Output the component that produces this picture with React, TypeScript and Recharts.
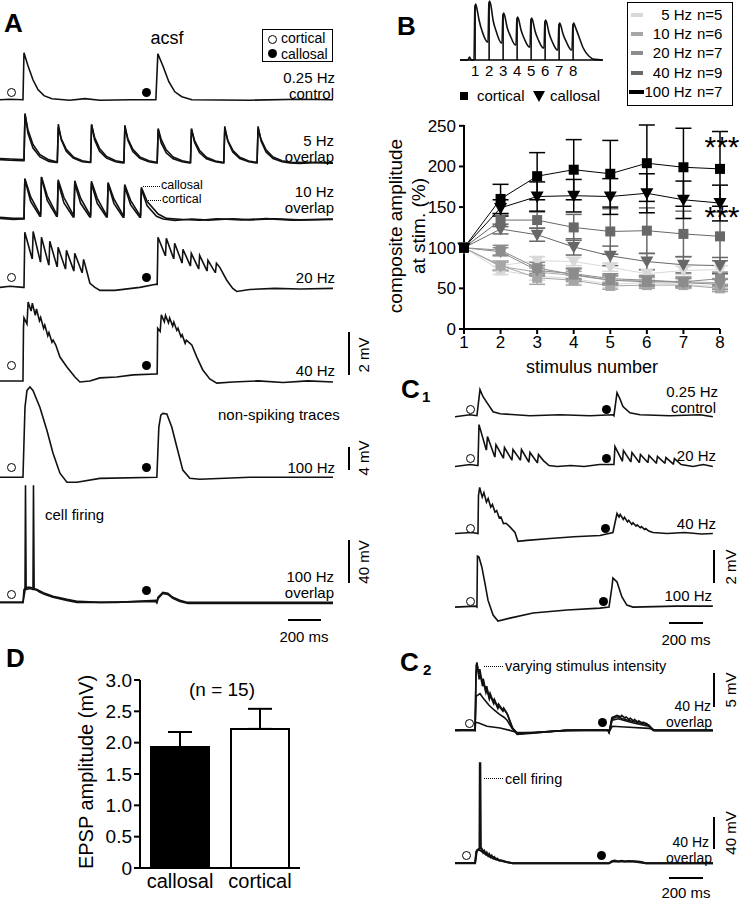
import type { CSSProperties, ReactNode } from "react";
import {
  Bar,
  BarChart,
  Cell,
  ErrorBar,
  Line,
  LineChart,
  ReferenceLine,
  XAxis,
  YAxis,
} from "recharts";

type Pt = [number, number]; // [time ms, mV]

const INK = "#111";
const FONT = '"Liberation Sans", Arial, Helvetica, sans-serif';

// ---------- panel A traces ----------
const A_CTRL: Pt[] = [
  [0, 0], [60, 0.02], [138, 0], [144, 2.19], [168, 1.58], [198, 0.93], [228, 0.47], [264, 0.19],
  [312, 0.05], [420, -0.02], [510, 0.05], [600, -0.02], [780, 0], [936, 0], [948, 2.14],
  [978, 1.58], [1014, 0.84], [1050, 0.37], [1092, 0.14], [1152, 0], [1500, -0.02], [1800, 0.02], [2000, 0],
];

const A_5HZ_CORT: Pt[] = [
  [0, 0.15], [60, 0.12], [138, 0.1],
  [144, 0.1], [150, 2.3], [168, 1.38], [198, 0.69], [240, 0.28], [294, 0.07], [338, 0.02],
  [344, 0.02], [350, 1.8], [368, 1.08], [398, 0.54], [440, 0.22], [494, 0.05], [538, 0.02],
  [544, 0.02], [550, 1.8], [568, 1.08], [598, 0.54], [640, 0.22], [694, 0.05], [738, 0],
  [744, 0], [750, 1.75], [768, 1.05], [798, 0.53], [840, 0.21], [894, 0.05], [938, 0],
  [944, 0], [950, 1.55], [968, 0.93], [998, 0.47], [1040, 0.19], [1094, 0.05], [1138, 0],
  [1144, 0], [1150, 1.6], [1168, 0.96], [1198, 0.48], [1240, 0.19], [1294, 0.05], [1338, 0],
  [1344, 0], [1350, 1.7], [1368, 1.02], [1398, 0.51], [1440, 0.2], [1494, 0.05], [1538, 0],
  [1544, 0], [1550, 1.7], [1568, 1.02], [1598, 0.51], [1640, 0.2], [1694, 0.05], [1740, 0],
  [1800, -0.03], [1900, 0.02], [2000, -0.02],
];

const A_5HZ_CALL: Pt[] = [
  [0, 0.2], [60, 0.18], [138, 0.15],
  [144, 0.15], [150, 2.25], [168, 1.53], [198, 0.86], [240, 0.38], [294, 0.14], [338, 0.05],
  [344, 0.05], [350, 1.65], [368, 1.12], [398, 0.63], [440, 0.28], [494, 0.1], [538, 0.04],
  [544, 0.04], [550, 1.75], [568, 1.19], [598, 0.67], [640, 0.3], [694, 0.1], [738, 0.04],
  [744, 0.04], [750, 1.65], [768, 1.12], [798, 0.63], [840, 0.28], [894, 0.1], [938, 0.03],
  [944, 0.03], [950, 1.6], [968, 1.09], [998, 0.61], [1040, 0.27], [1094, 0.1], [1138, 0.03],
  [1144, 0.03], [1150, 1.55], [1168, 1.05], [1198, 0.59], [1240, 0.26], [1294, 0.09], [1338, 0.03],
  [1344, 0.03], [1350, 1.55], [1368, 1.05], [1398, 0.59], [1440, 0.26], [1494, 0.09], [1538, 0.03],
  [1544, 0.03], [1550, 1.6], [1568, 1.09], [1598, 0.61], [1640, 0.27], [1694, 0.1], [1760, 0.02],
  [1850, 0.03], [2000, 0],
];

const A_10HZ_CORT: Pt[] = [
  [0, 0.05], [80, 0], [138, 0.02],
  [144, 0.02], [149, 1.86], [184, 0.84], [239, 0.15],
  [244, 0.15], [249, 1.95], [284, 0.88], [339, 0.15],
  [344, 0.15], [349, 1.72], [384, 0.77], [439, 0.12],
  [444, 0.12], [449, 1.67], [484, 0.75], [539, 0.12],
  [544, 0.12], [549, 1.67], [584, 0.75], [639, 0.12],
  [644, 0.12], [649, 1.67], [684, 0.75], [739, 0.1],
  [744, 0.1], [749, 1.53], [784, 0.69], [839, 0.1],
  [844, 0.1], [849, 1.4], [884, 0.63], [940, 0.15], [980, 0.02],
  [1050, -0.05], [1150, 0.02], [1250, -0.03], [1400, 0.03], [1500, -0.02], [1650, 0.03], [1800, -0.02], [2000, 0.02],
];

const A_10HZ_CALL: Pt[] = [
  [0, 0.1], [80, 0.05], [138, 0.05],
  [144, 0.05], [149, 1.9], [184, 1.05], [239, 0.25],
  [244, 0.25], [249, 1.98], [284, 1.09], [339, 0.25],
  [344, 0.25], [349, 1.85], [384, 1.02], [439, 0.22],
  [444, 0.22], [449, 1.8], [484, 0.99], [539, 0.22],
  [544, 0.22], [549, 1.78], [584, 0.98], [639, 0.2],
  [644, 0.2], [649, 1.72], [684, 0.95], [739, 0.2],
  [744, 0.2], [749, 1.62], [784, 0.89], [839, 0.2],
  [844, 0.2], [849, 1.5], [884, 0.83], [950, 0.25], [1000, 0.05],
  [1100, 0], [1200, -0.04], [1300, 0.03], [1450, -0.02], [1600, 0.04], [1750, -0.03], [2000, 0],
];

const A_20HZ: Pt[] = [
  [0, 0], [60, 0.05], [138, 0],
  [144, 0], [149, 2.56], [192, 1.35],
  [194, 1.35], [199, 2.6], [242, 1.21],
  [244, 1.21], [249, 2.33], [292, 1.07],
  [294, 1.07], [299, 2.14], [342, 0.98],
  [344, 0.98], [349, 1.86], [392, 0.88],
  [394, 0.88], [399, 1.72], [442, 0.79],
  [444, 0.79], [449, 1.58], [492, 0.7],
  [494, 0.7], [502, 1.3], [516, 0.9], [540, 0.19], [570, 0], [600, -0.14], [690, -0.14], [840, 0], [936, 0.14],
  [944, 0.14], [949, 2.33], [992, 1.49],
  [994, 1.49], [999, 2.28], [1042, 1.35],
  [1044, 1.35], [1049, 2.05], [1092, 1.16],
  [1094, 1.16], [1099, 1.77], [1142, 1.02],
  [1144, 1.02], [1149, 1.58], [1192, 0.88],
  [1194, 0.88], [1199, 1.49], [1242, 0.79],
  [1244, 0.79], [1249, 1.26], [1292, 0.7],
  [1294, 0.7], [1300, 1.12], [1320, 0.93], [1362, 0.33], [1398, -0.05], [1422, -0.19],
  [1500, -0.1], [1650, -0.05], [1800, -0.08], [2000, -0.05],
];

const A_40HZ: Pt[] = [
  [0, 0.05], [138, 0.05], [141, 2.5], [144, 2.98], [162, 2.7], [169, 3.72], [187, 3.3], [194, 3.67],
  [212, 3.1], [219, 3.4], [237, 2.85], [244, 3.0], [262, 2.5], [269, 2.65], [287, 2.15], [294, 2.3],
  [312, 1.85], [319, 1.95], [335, 1.72], [360, 1.16], [402, 0.7], [450, 0.23], [480, 0],
  [540, 0.05], [600, 0.19], [700, 0.23], [800, 0.33], [936, 0.37],
  [944, 0.37], [947, 2.5], [962, 2.35], [969, 3.12], [987, 2.8], [994, 3.1], [1012, 2.75], [1019, 2.98],
  [1037, 2.6], [1044, 2.79], [1062, 2.4], [1069, 2.5], [1087, 2.1], [1094, 2.2], [1112, 1.8], [1119, 1.95],
  [1152, 1.72], [1182, 1.16], [1218, 0.56], [1260, 0.14], [1302, -0.05], [1400, 0], [1550, 0.05],
  [1700, -0.02], [1850, 0.05], [2000, 0],
];

const A_100HZ: Pt[] = [
  [0, 0], [138, 0], [150, 12.7], [162, 15.8], [180, 16.4], [198, 15.8], [240, 12.7], [282, 8.5],
  [318, 4.4], [360, 0.73], [402, -0.9], [462, -0.9], [600, -0.2], [942, 0],
  [954, 9.1], [966, 11.3], [978, 11.6], [1002, 11.5], [1032, 9.1], [1062, 5.5], [1098, 1.3],
  [1140, -0.2], [1200, -0.36], [1500, 0], [2000, 0],
];

const A_FIRE_1: Pt[] = [
  [0, 0], [138, 0], [150, 11], [153, 109], [157, 12], [180, 13], [198, 12], [201, 109], [205, 12],
  [222, 11.2], [240, 9.3], [270, 7.4], [318, 4.7], [402, 1.9], [462, 0], [700, 0],
  [936, 1.9], [942, 0.5], [948, 4.7], [978, 9.3], [1008, 8.4], [1038, 4.7], [1080, 1.9], [1122, 0], [2000, 0],
];

const A_FIRE_2: Pt[] = [
  [0, 0], [138, 0], [144, 12], [156, 14], [180, 14], [222, 12], [260, 9], [318, 5.6], [402, 2.8],
  [470, 0.9], [600, 0], [936, 0.9], [942, -0.5], [950, 3.7], [978, 8.4], [1008, 7.4], [1038, 3.7],
  [1080, 0.9], [1130, -0.9], [2000, -0.9],
];

// ---------- panel B ----------
const INSET_TRACE: Pt[] = [
  [0, 0], [14, 0], [17, 0.15], [20, 0], [25, 0], [26.5, 2.6], [28, 2.8], [30, 2.6], [34, 2.0], [40, 1.4], [49, 0.9],
  [50, 0.9], [51.5, 2.75], [53, 2.95], [55, 2.75], [59, 2.0], [65, 1.4], [74, 0.85],
  [75, 0.85], [76.5, 2.2], [78, 2.35], [80, 2.2], [84, 1.65], [90, 1.2], [99, 0.75],
  [100, 0.75], [101.5, 2.0], [103, 2.15], [105, 2.0], [109, 1.5], [115, 1.05], [124, 0.65],
  [125, 0.65], [126.5, 1.95], [128, 2.1], [130, 1.95], [134, 1.45], [140, 1.0], [149, 0.6],
  [150, 0.6], [151.5, 1.85], [153, 2.0], [155, 1.85], [159, 1.35], [165, 0.9], [174, 0.5],
  [175, 0.5], [176.5, 1.7], [178, 1.85], [180, 1.72], [184, 1.3], [190, 0.9], [199, 0.5],
  [200, 0.5], [201.5, 1.7], [203, 1.85], [205, 1.72], [212, 1.2], [220, 0.6], [230, 0.2], [240, 0.03], [255, 0],
];
const INSET_STIM_T = [27, 52, 77, 102, 127, 152, 177, 202];
const INSET_STIM_PEAK = [2.75, 2.9, 2.3, 2.1, 2.05, 1.95, 1.8, 1.8];

const STIM_N = [1, 2, 3, 4, 5, 6, 7, 8];
const CORT_100HZ = [100, 160, 188, 196, 191, 204, 199, 197];
const CORT_100HZ_ERR = [0, 18, 29, 37, 41, 47, 48, 46];
const CALL_100HZ = [100, 149, 163, 164, 163, 167, 159, 155];
const CALL_100HZ_ERR = [0, 10, 18, 20, 22, 24, 23, 22];
const CORT_40HZ = [100, 134, 134, 125, 120, 121, 117, 114];
const CORT_40HZ_ERR = [0, 8, 10, 16, 28, 28, 28, 30];
const CALL_40HZ = [100, 123, 116, 101, 90, 83, 79, 78];
const CALL_40HZ_ERR = [0, 6, 8, 10, 12, 10, 10, 10];
const CORT_20HZ = [100, 97, 75, 67, 60, 58, 58, 62];
const CORT_20HZ_ERR = [0, 6, 7, 8, 6, 6, 6, 8];
const CALL_20HZ = [100, 95, 72, 68, 62, 60, 57, 55];
const CALL_20HZ_ERR = [0, 5, 6, 6, 6, 6, 5, 6];
const CORT_10HZ = [100, 78, 63, 60, 53, 54, 54, 50];
const CORT_10HZ_ERR = [0, 6, 8, 6, 4, 4, 4, 4];
const CALL_10HZ = [100, 77, 70, 66, 60, 60, 58, 57];
const CALL_10HZ_ERR = [0, 5, 5, 5, 5, 5, 5, 5];
const CORT_5HZ = [100, 72, 65, 62, 55, 57, 55, 52];
const CORT_5HZ_ERR = [0, 5, 5, 5, 4, 4, 4, 4];
const CALL_5HZ = [100, 78, 84, 83, 76, 68, 72, 73];
const CALL_5HZ_ERR = [0, 5, 5, 5, 5, 5, 5, 5];

const FREQ_LABELS = ["5 Hz", "10 Hz", "20 Hz", "40 Hz", "100 Hz"];
const FREQ_N = ["n=5", "n=6", "n=7", "n=9", "n=7"];
const FREQ_COLORS = ["#d9d9d9", "#a6a6a6", "#8c8c8c", "#686868", "#000000"];

// ---------- panel C ----------
const C1_CTRL: Pt[] = [
  [0, -0.06], [88, 0.06], [129, 0], [147, 1.58], [165, 1.15], [188, 0.79], [224, 0.24], [265, 0.12],
  [441, 0], [617, 0.06], [794, 0], [929, 0.06], [935, 0], [953, 1.39], [970, 1.03], [988, 0.55],
  [1029, 0.18], [1088, 0.06], [1264, 0], [1441, 0.06], [1517, -0.06],
];

const C1_20HZ: Pt[] = [
  [0, -0.06], [90, 0.06], [130, 0], [135, 0], [141, 2.48], [183, 0.97], [185, 0.97], [191, 1.76],
  [233, 0.55], [235, 0.55], [241, 1.27], [283, 0.48], [285, 0.48], [291, 1.09], [333, 0.36],
  [335, 0.36], [341, 0.97], [383, 0.36], [385, 0.36], [391, 0.97], [433, 0.24], [435, 0.24],
  [441, 0.79], [483, 0.18], [485, 0.18], [491, 0.67], [520, 0.3], [553, 0], [600, -0.06],
  [680, 0], [760, -0.06], [850, 0.06], [930, 0.06],
  [935, 0.06], [941, 1.15], [983, 0.3], [985, 0.3], [991, 0.91], [1033, 0.25], [1035, 0.25],
  [1041, 0.79], [1083, 0.2], [1085, 0.2], [1091, 0.67], [1133, 0.2], [1135, 0.2], [1141, 0.61],
  [1183, 0.15], [1185, 0.15], [1191, 0.55], [1233, 0.15], [1235, 0.15], [1241, 0.48], [1283, 0.1],
  [1285, 0.1], [1291, 0.42], [1330, 0.06], [1400, -0.06], [1460, 0.06], [1517, -0.06],
];

const C1_40HZ: Pt[] = [
  [0, 0], [100, 0.06], [135, 0], [138, 2.3], [145, 2.79], [160, 2.2], [170, 2.48], [185, 1.9],
  [195, 2.12], [210, 1.6], [220, 1.76], [235, 1.3], [245, 1.39], [260, 0.95], [270, 1.0],
  [285, 0.6], [300, 0.62], [323, 0.4], [353, 0.06], [370, -0.48], [423, -0.42], [559, -0.3],
  [700, -0.2], [853, -0.12], [929, 0.06],
  [953, 1.21], [965, 1.0], [972, 1.15], [990, 0.85], [997, 0.98], [1015, 0.7], [1022, 0.8],
  [1040, 0.55], [1047, 0.65], [1065, 0.45], [1072, 0.52], [1090, 0.35], [1097, 0.42], [1115, 0.25],
  [1122, 0.3], [1140, 0.15], [1165, 0.06], [1247, 0], [1350, 0.06], [1450, -0.03], [1517, 0],
];

const C1_100HZ: Pt[] = [
  [0, 0], [120, 0.06], [129, 0], [132, 3.09], [141, 3.03], [158, 2.42], [176, 1.45], [194, 0.42],
  [224, -0.48], [253, -0.85], [323, -0.67], [459, -0.36], [659, -0.18], [853, -0.06], [906, 0],
  [923, 1.21], [929, 1.76], [953, 1.52], [982, 0.61], [1011, 0.12], [1047, 0], [1300, 0.06], [1517, 0.06],
];

const C2_INT_1: Pt[] = [
  [0, 0], [110, 0.1], [118, 0], [124, 9.5], [129, 10], [140, 8.2], [146, 9.0], [160, 7.0], [166, 7.6],
  [180, 5.9], [186, 6.5], [200, 5.0], [206, 5.5], [225, 4.2], [231, 4.6], [250, 3.5], [256, 3.9],
  [280, 3.0], [286, 3.3], [306, 2.5], [335, 0.44], [365, -0.6], [459, -0.4], [600, -0.1], [659, 0],
  [900, 0.1], [906, -0.44], [923, 1.9], [953, 2.2], [975, 2.0], [981, 2.2], [1000, 1.8], [1006, 2.0],
  [1025, 1.6], [1031, 1.8], [1050, 1.4], [1056, 1.6], [1075, 1.2], [1081, 1.4], [1100, 1.1],
  [1106, 1.2], [1129, 1.0], [1165, 0], [1300, 0], [1520, 0],
];
const C2_INT_2: Pt[] = [
  [0, 0.1], [118, 0.1], [124, 8.5], [132, 9.4], [142, 7.5], [148, 8.2], [162, 6.5], [168, 7.0],
  [182, 5.5], [188, 6.0], [202, 4.6], [208, 5.1], [228, 3.9], [234, 4.3], [252, 3.2], [258, 3.6],
  [282, 2.8], [288, 3.1], [310, 2.3], [340, 0.3], [370, -0.5], [470, -0.35], [659, 0], [900, 0.05],
  [906, -0.3], [923, 1.7], [953, 2.0], [1000, 1.6], [1050, 1.3], [1100, 1.0], [1140, 0.8],
  [1170, 0], [1520, 0],
];
const C2_INT_3: Pt[] = [
  [0, 0], [118, 0], [124, 5.0], [147, 5.4], [170, 4.6], [200, 3.7], [230, 3.0], [260, 2.4],
  [290, 1.9], [306, 1.5], [335, 0.3], [365, -0.4], [459, -0.3], [659, 0], [900, 0],
  [906, -0.3], [925, 1.5], [960, 1.7], [1050, 1.1], [1140, 0.6], [1170, 0], [1520, 0],
];
const C2_INT_4: Pt[] = [
  [0, 0], [118, 0], [121, 1.2], [140, 1.1], [188, 0.6], [265, 0.35], [323, 0], [365, -0.3],
  [459, -0.3], [659, 0], [900, 0], [906, -0.2], [925, 0.6], [1000, 0.5], [1140, 0.3],
  [1180, 0], [1520, 0],
];

const C2_FIRE_1: Pt[] = [
  [0, 0], [118, 0], [129, 16.8], [144, 19], [146, 129], [149, 129], [152, 20.6], [160, 18],
  [166, 14], [172, 16], [180, 12], [186, 14], [195, 10], [201, 12], [210, 8], [216, 10],
  [225, 6.5], [231, 8], [242, 5], [248, 6], [260, 3.5], [270, 4], [300, 2], [340, 0],
  [906, 0], [923, 2.6], [940, 3.5], [960, 2.5], [980, 3.3], [1000, 2.4], [1020, 3.0],
  [1050, 2.5], [1090, 2.0], [1123, 0], [1520, 0],
];
const C2_FIRE_2: Pt[] = [
  [0, 0.3], [118, 0.3], [125, 15], [140, 18], [160, 15], [200, 9], [240, 5], [300, 1.5],
  [340, 0], [906, 0], [925, 2.2], [1050, 2.2], [1123, 0], [1520, 0],
];

// ---------- panel D ----------
const D_GROUPS = ["callosal", "cortical"];
const D_MEAN = [1.93, 2.22];
const D_SEM = [0.24, 0.32];
const D_FILLS = ["#000", "#fff"];

const rowsOf = (pts: Pt[]) => pts.map(([t, v]) => ({ t, v }));

function Trace({
  x0,
  baseline,
  msPx,
  mvPx,
  tMax,
  vMin,
  vMax,
  series,
  sw = 1.6,
}: {
  x0: number;
  baseline: number;
  msPx: number;
  mvPx: number;
  tMax: number;
  vMin: number;
  vMax: number;
  series: Pt[][];
  sw?: number;
}) {
  const width = tMax * msPx;
  const height = (vMax - vMin) * mvPx;
  return (
    <div style={{ position: "absolute", left: x0, top: baseline - vMax * mvPx }}>
      <LineChart width={width} height={height} margin={{ top: 0, right: 0, bottom: 0, left: 0 }}>
        <XAxis type="number" dataKey="t" domain={[0, tMax]} hide allowDataOverflow />
        <YAxis type="number" domain={[vMin, vMax]} hide allowDataOverflow />
        {series.map((s, i) => (
          <Line
            key={i}
            data={rowsOf(s)}
            dataKey="v"
            type="linear"
            stroke={INK}
            strokeWidth={sw}
            dot={false}
            isAnimationActive={false}
          />
        ))}
      </LineChart>
    </div>
  );
}

function T({
  x,
  y,
  a = "start",
  s = 15,
  b = false,
  rot = false,
  children,
}: {
  x: number;
  y: number;
  a?: "start" | "middle" | "end";
  s?: number;
  b?: boolean;
  rot?: boolean;
  children: ReactNode;
}) {
  const tx = a === "start" ? "0" : a === "middle" ? "-50%" : "-100%";
  const style: CSSProperties = {
    position: "absolute",
    left: x,
    top: y,
    transform: rot ? "translate(-50%,-50%) rotate(-90deg)" : `translate(${tx},-50%)`,
    fontSize: s,
    fontWeight: b ? 700 : 400,
    lineHeight: 0.75,
    whiteSpace: "nowrap",
  };
  return <div style={style}>{children}</div>;
}

function Dot({ x, y, filled }: { x: number; y: number; filled?: boolean }) {
  return (
    <div
      style={{
        position: "absolute",
        left: x - 4.5,
        top: y - 4.5,
        width: 9,
        height: 9,
        borderRadius: "50%",
        boxSizing: "border-box",
        border: filled ? "none" : "1.5px solid #000",
        background: filled ? "#000" : "#fff",
      }}
    />
  );
}

function VBar({ x, y1, y2 }: { x: number; y1: number; y2: number }) {
  return (
    <div style={{ position: "absolute", left: x - 1.25, top: y1, width: 2.5, height: y2 - y1, background: "#000" }} />
  );
}

function HBar({ x1, x2, y }: { x1: number; x2: number; y: number }) {
  return (
    <div style={{ position: "absolute", left: x1, top: y - 1.25, width: x2 - x1, height: 2.5, background: "#000" }} />
  );
}

function Leader({ x1, x2, y }: { x1: number; x2: number; y: number }) {
  return <div style={{ position: "absolute", left: x1, top: y, width: x2 - x1, borderTop: "1px dotted #000" }} />;
}

function Swatch({ x, y, w, h, color }: { x: number; y: number; w: number; h: number; color: string }) {
  return <div style={{ position: "absolute", left: x, top: y, width: w, height: h, background: color }} />;
}

const squareDot = (color: string, size = 10) => (p: any) => (
  <rect key={`sq-${p.index}`} x={p.cx - size / 2} y={p.cy - size / 2} width={size} height={size} fill={color} />
);

const triDot = (color: string) => (p: any) => (
  <polygon
    key={`tr-${p.index}`}
    points={`${p.cx - 6.5},${p.cy - 5} ${p.cx + 6.5},${p.cy - 5} ${p.cx},${p.cy + 6.5}`}
    fill={color}
  />
);

const B_ROWS = STIM_N.map((n, i) => ({
  n,
  c5: CORT_5HZ[i], c5e: CORT_5HZ_ERR[i], k5: CALL_5HZ[i], k5e: CALL_5HZ_ERR[i],
  c10: CORT_10HZ[i], c10e: CORT_10HZ_ERR[i], k10: CALL_10HZ[i], k10e: CALL_10HZ_ERR[i],
  c20: CORT_20HZ[i], c20e: CORT_20HZ_ERR[i], k20: CALL_20HZ[i], k20e: CALL_20HZ_ERR[i],
  c40: CORT_40HZ[i], c40e: CORT_40HZ_ERR[i], k40: CALL_40HZ[i], k40e: CALL_40HZ_ERR[i],
  c100: CORT_100HZ[i], c100e: CORT_100HZ_ERR[i], k100: CALL_100HZ[i], k100e: CALL_100HZ_ERR[i],
}));

const B_SERIES = ["5", "10", "20", "40", "100"].flatMap((f, i) => [
  { key: `c${f}`, color: FREQ_COLORS[i], shape: "square" },
  { key: `k${f}`, color: FREQ_COLORS[i], shape: "tri" },
]);

const D_ROWS = D_GROUPS.map((name, i) => ({ name, value: D_MEAN[i], err: [0, D_SEM[i]] }));

function PanelB() {
  const axisStyle = { stroke: "#000", strokeWidth: 2 };
  return (
    <div style={{ position: "absolute", left: 390, top: 110 }}>
      <LineChart width={345} height={270} data={B_ROWS} margin={{ top: 15, right: 15, bottom: 5, left: 0 }}>
        <XAxis
          type="number"
          dataKey="n"
          domain={[1, 8]}
          ticks={STIM_N}
          height={46}
          tickSize={5}
          tickMargin={2}
          axisLine={axisStyle}
          tickLine={axisStyle}
          tick={{ fill: "#000", fontSize: 17 }}
        />
        <YAxis
          type="number"
          domain={[0, 250]}
          ticks={[0, 50, 100, 150, 200, 250]}
          width={74}
          tickSize={5}
          tickMargin={3}
          axisLine={axisStyle}
          tickLine={axisStyle}
          tick={{ fill: "#000", fontSize: 17 }}
        />
        {B_SERIES.map((s) => (
          <Line
            key={s.key}
            dataKey={s.key}
            type="linear"
            stroke={s.color}
            strokeWidth={1}
            isAnimationActive={false}
            dot={s.shape === "square" ? squareDot(s.color) : triDot(s.color)}
          >
            <ErrorBar dataKey={`${s.key}e`} width={8} stroke={s.color} strokeWidth={1.5} direction="y" />
          </Line>
        ))}
      </LineChart>
    </div>
  );
}

function Inset() {
  const msPx = 0.56;
  return (
    <div style={{ position: "absolute", left: 460, top: 0 }}>
      <LineChart width={255 * msPx} height={80} margin={{ top: 0, right: 0, bottom: 0, left: 0 }}>
        <XAxis
          type="number"
          dataKey="t"
          domain={[0, 255]}
          ticks={INSET_STIM_T}
          tickFormatter={(v: number) => String(INSET_STIM_T.indexOf(v) + 1)}
          interval={0}
          height={20}
          tickLine={false}
          tickSize={4}
          tickMargin={1}
          axisLine={{ stroke: "#000", strokeWidth: 1.5 }}
          tick={{ fill: "#000", fontSize: 15 }}
        />
        <YAxis type="number" domain={[0, 3]} hide />
        {INSET_STIM_T.map((t, i) => (
          <ReferenceLine
            key={t}
            segment={[
              { x: t, y: 0 },
              { x: t, y: INSET_STIM_PEAK[i] },
            ]}
            stroke="#000"
            strokeWidth={1.5}
          />
        ))}
        <Line
          data={rowsOf(INSET_TRACE)}
          dataKey="v"
          type="monotone"
          stroke={INK}
          strokeWidth={1.6}
          dot={false}
          isAnimationActive={false}
        />
      </LineChart>
    </div>
  );
}

function PanelD() {
  const axisStyle = { stroke: "#000", strokeWidth: 2 };
  return (
    <div style={{ position: "absolute", left: 30, top: 650 }}>
      <BarChart width={290} height={250} data={D_ROWS} margin={{ top: 30, right: 20, bottom: 2, left: 0 }}>
        <XAxis
          dataKey="name"
          height={30}
          interval={0}
          tickLine={false}
          tickSize={4}
          axisLine={axisStyle}
          tick={{ fill: "#000", fontSize: 20 }}
        />
        <YAxis
          type="number"
          domain={[0, 3]}
          ticks={[0, 0.5, 1, 1.5, 2, 2.5, 3]}
          tickFormatter={(v: number) => (v === 0 ? "0" : v.toFixed(1))}
          width={110}
          tickSize={6}
          tickMargin={2}
          axisLine={axisStyle}
          tickLine={axisStyle}
          tick={{ fill: "#000", fontSize: 19 }}
        />
        <Bar dataKey="value" barSize={58} isAnimationActive={false}>
          {D_ROWS.map((r, i) => (
            <Cell key={r.name} fill={D_FILLS[i]} stroke="#000" strokeWidth={2} />
          ))}
          <ErrorBar dataKey="err" width={12} stroke="#000" strokeWidth={2} direction="y" />
        </Bar>
      </BarChart>
    </div>
  );
}

export default function App() {
  const A = { x0: 0, msPx: 333 / 2000, tMax: 2000 };
  const C = { x0: 455, msPx: 0.17, tMax: 1520 };
  return (
    <div
      style={{
        position: "absolute",
        left: 0,
        top: 0,
        width: 740,
        height: 900,
        background: "#fff",
        color: "#000",
        fontFamily: FONT,
        overflow: "hidden",
      }}
    >
      {/* ----- A ----- */}
      <T x={4} y={24} s={26} b>A</T>
      <T x={167} y={39} a="middle" s={18}>acsf</T>
      <div style={{ position: "absolute", left: 262, top: 29, width: 71, height: 33, border: "1.5px solid #000", boxSizing: "border-box" }} />
      <Dot x={272} y={39} />
      <T x={281} y={38} s={14}>cortical</T>
      <Dot x={272} y={53} filled />
      <T x={281} y={54} s={14}>callosal</T>

      <Trace {...A} baseline={100} mvPx={21.5} vMin={-0.5} vMax={2.5} series={[A_CTRL]} />
      <Dot x={11} y={92} />
      <Dot x={146} y={92} filled />
      <T x={335} y={78} a="end">0.25 Hz</T>
      <T x={334} y={94} a="end">control</T>

      <Trace {...A} baseline={163} mvPx={21.5} vMin={-0.5} vMax={2.6} series={[A_5HZ_CORT, A_5HZ_CALL]} />
      <T x={334} y={141} a="end">5 Hz</T>
      <T x={334} y={157} a="end">overlap</T>

      <Trace {...A} baseline={219} mvPx={21.5} vMin={-0.5} vMax={2.3} series={[A_10HZ_CORT, A_10HZ_CALL]} />
      <Leader x1={143} x2={160} y={186} />
      <T x={161} y={186} s={12.5}>callosal</T>
      <Leader x1={148} x2={161} y={200} />
      <T x={162} y={200} s={12.5}>cortical</T>
      <T x={334} y={192} a="end">10 Hz</T>
      <T x={334} y={208} a="end">overlap</T>

      <Trace {...A} baseline={287} mvPx={21.5} vMin={-0.5} vMax={2.9} series={[A_20HZ]} />
      <Dot x={11} y={277} />
      <Dot x={146} y={277} filled />
      <T x={335} y={278} a="end">20 Hz</T>

      <Trace {...A} baseline={382} mvPx={21.5} vMin={-0.5} vMax={4} series={[A_40HZ]} />
      <Dot x={11} y={365} />
      <Dot x={146} y={365} filled />
      <T x={335} y={371} a="end">40 Hz</T>
      <VBar x={349} y1={332} y2={375} />
      <T x={364} y={355} rot>2 mV</T>

      <Trace {...A} baseline={477} mvPx={5.5} vMin={-2} vMax={17.5} series={[A_100HZ]} />
      <Dot x={11} y={467} />
      <Dot x={146} y={467} filled />
      <T x={218} y={415}>non-spiking traces</T>
      <T x={335} y={468} a="end">100 Hz</T>
      <VBar x={349} y1={447} y2={470} />
      <T x={364} y={458} rot>4 mV</T>

      <Trace {...A} baseline={602} mvPx={1.075} vMin={-4} vMax={112} series={[A_FIRE_2, A_FIRE_1]} />
      <Dot x={11} y={594} />
      <Dot x={146} y={590} filled />
      <T x={45} y={515}>cell firing</T>
      <T x={334} y={577} a="end">100 Hz</T>
      <T x={334} y={593} a="end">overlap</T>
      <VBar x={349} y1={540} y2={583} />
      <T x={364} y={562} rot>40 mV</T>
      <HBar x1={288} x2={321} y={620} />
      <T x={304} y={637} a="middle">200 ms</T>

      {/* ----- B ----- */}
      <T x={397} y={27} s={26} b>B</T>
      <Inset />
      <Swatch x={460} y={92} w={8} h={8} color="#000" />
      <T x={477} y={96}>cortical</T>
      <div style={{ position: "absolute", left: 533, top: 91, width: 0, height: 0, borderLeft: "6.5px solid transparent", borderRight: "6.5px solid transparent", borderTop: "11px solid #000" }} />
      <T x={550} y={96}>callosal</T>

      <div style={{ position: "absolute", left: 627, top: 2, width: 106, height: 104, border: "1.5px solid #000", boxSizing: "border-box" }} />
      {FREQ_LABELS.map((f, i) => {
        const y = [15, 34, 53, 73, 92][i];
        return (
          <div key={f}>
            <Swatch x={i === 4 ? 629 : 631} y={y - 2} w={i === 4 ? 15 : 12} h={4} color={FREQ_COLORS[i]} />
            <T x={692} y={y} a="end">{f}</T>
            <T x={697} y={y}>{FREQ_N[i]}</T>
          </div>
        );
      })}

      <PanelB />
      <T x={396} y={226} s={19} rot>composite amplitude</T>
      <T x={419} y={226} s={19} rot>at stim. (%)</T>
      <T x={592} y={368} a="middle" s={18}>stimulus number</T>
      <T x={722} y={147} a="middle" s={30}>***</T>
      <T x={722} y={217} a="middle" s={30}>***</T>

      {/* ----- C1 ----- */}
      <T x={401} y={390} s={26} b>C</T>
      <T x={422} y={397} s={15} b>1</T>
      <Trace {...C} baseline={416} mvPx={16.5} vMin={-0.4} vMax={1.8} series={[C1_CTRL]} />
      <Dot x={470} y={409} />
      <Dot x={606} y={409} filled />
      <T x={718} y={392} a="end">0.25 Hz</T>
      <T x={716} y={408} a="end">control</T>

      <Trace {...C} baseline={466} mvPx={16.5} vMin={-0.4} vMax={2.7} series={[C1_20HZ]} />
      <Dot x={470} y={458} />
      <Dot x={606} y={458} filled />
      <T x={716} y={456} a="end">20 Hz</T>

      <Trace {...C} baseline={533} mvPx={16.5} vMin={-0.8} vMax={3} series={[C1_40HZ]} />
      <Dot x={470} y={528} />
      <Dot x={605} y={528} filled />
      <T x={716} y={524} a="end">40 Hz</T>

      <Trace {...C} baseline={607} mvPx={16.5} vMin={-1.2} vMax={3.4} series={[C1_100HZ]} />
      <Dot x={470} y={601} />
      <Dot x={603} y={601} filled />
      <T x={712} y={596} a="end">100 Hz</T>
      <VBar x={714} y1={550} y2={583} />
      <T x={731} y={567} rot>2 mV</T>
      <HBar x1={669} x2={703} y={623} />
      <T x={686} y={640} a="middle">200 ms</T>

      {/* ----- C2 ----- */}
      <T x={400} y={663} s={26} b>C</T>
      <T x={423} y={670} s={15} b>2</T>
      <Trace {...C} baseline={730} mvPx={6.8} vMin={-1} vMax={10.5} series={[C2_INT_4, C2_INT_3, C2_INT_2, C2_INT_1]} />
      <Dot x={469} y={723} />
      <Dot x={602} y={722} filled />
      <Leader x1={484} x2={503} y={666} />
      <T x={505} y={666} s={14.5}>varying stimulus intensity</T>
      <T x={711} y={706} a="end" s={14}>40 Hz</T>
      <T x={712} y={722} a="end" s={14}>overlap</T>
      <VBar x={714} y1={673} y2={707} />
      <T x={731} y={690} rot>5 mV</T>

      <Trace {...C} baseline={863} mvPx={0.775} vMin={-3} vMax={132} sw={2} series={[C2_FIRE_2, C2_FIRE_1]} />
      <Dot x={466} y={855} />
      <Dot x={601} y={855} filled />
      <Leader x1={484} x2={503} y={778} />
      <T x={505} y={779} s={14.5}>cell firing</T>
      <T x={709} y={842} a="end" s={14}>40 Hz</T>
      <T x={712} y={858} a="end" s={14}>overlap</T>
      <VBar x={714} y1={817} y2={849} />
      <T x={731} y={833} rot>40 mV</T>
      <HBar x1={669} x2={703} y={878} />
      <T x={686} y={893} a="middle">200 ms</T>

      {/* ----- D ----- */}
      <T x={6} y={659} s={26} b>D</T>
      <PanelD />
      <T x={86} y={772} s={20} rot>EPSP amplitude (mV)</T>
      <T x={222} y={690} a="middle" s={19}>(n = 15)</T>
    </div>
  );
}
